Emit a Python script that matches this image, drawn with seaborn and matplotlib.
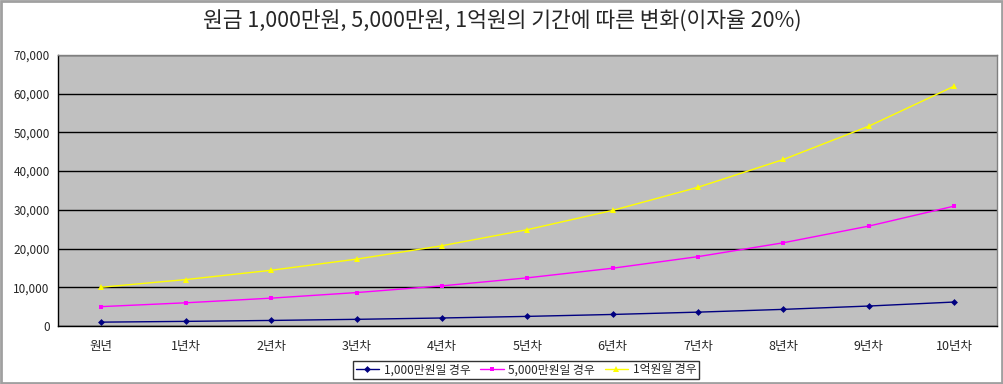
import matplotlib
matplotlib.use("Agg")
import matplotlib.pyplot as plt
import seaborn as sns
import pandas as pd
import numpy as np
from matplotlib.ticker import FuncFormatter, FixedLocator
from matplotlib.patches import Rectangle

categories = ["원년", "1년차", "2년차", "3년차", "4년차", "5년차", "6년차", "7년차", "8년차", "9년차", "10년차"]
s1000 = [1000, 1200, 1440, 1728, 2074, 2488, 2986, 3583, 4300, 5160, 6192]
s5000 = [5000, 6000, 7200, 8640, 10368, 12442, 14930, 17916, 21499, 25799, 30959]
s1eok = [10000, 12000, 14400, 17280, 20736, 24883, 29860, 35832, 42998, 51598, 61917]
series_names = ["1,000만원일 경우", "5,000만원일 경우", "1억원일 경우"]

sns.set_style("white")
plt.rcParams['font.family'] = ['Noto Sans CJK KR', 'DejaVu Sans']

rows = []
for name, vals in zip(series_names, [s1000, s5000, s1eok]):
    for i, (c, v) in enumerate(zip(categories, vals)):
        rows.append({"pos": i, "cat": c, "value": v, "series": name})
df = pd.DataFrame(rows)

fig = plt.figure(figsize=(10.04, 3.84), dpi=100)
ax = fig.add_axes([0.0578, 0.151, 0.935, 0.706])
ax.set_facecolor("#C0C0C0")

palette = {series_names[0]: "#000080", series_names[1]: "#FF00FF", series_names[2]: "#FFFF00"}
markers = {series_names[0]: "D", series_names[1]: "s", series_names[2]: "^"}
sizes = {series_names[0]: 3.5, series_names[1]: 3.5, series_names[2]: 4.5}

for name in series_names:
    sub = df[df["series"] == name]
    sns.lineplot(data=sub, x="pos", y="value", ax=ax, color=palette[name],
                 marker=markers[name], markersize=sizes[name], markeredgewidth=0,
                 linewidth=1.0, label=name, legend=False)

ax.set_xlim(-0.5, len(categories) - 0.5)
ax.set_ylim(0, 70000)
ax.set_yticks(np.arange(0, 70001, 10000))
ax.yaxis.set_major_formatter(FuncFormatter(lambda v, p: f"{int(v):,}"))
ax.set_xticks(range(len(categories)))
ax.set_xticklabels(categories)
ax.xaxis.set_minor_locator(FixedLocator(np.arange(-0.5, len(categories), 1.0)))
ax.tick_params(axis="x", which="major", length=0, pad=10, labelsize=9)
ax.tick_params(axis="x", which="minor", length=4, direction="in", width=0.8, color="black")
ax.tick_params(axis="y", length=0, pad=6, labelsize=8.5)
ax.grid(axis="y", color="black", linewidth=1.0)
ax.set_axisbelow(True)
ax.set_xlabel("")
ax.set_ylabel("")
for side in ["left", "bottom"]:
    ax.spines[side].set_color("black")
    ax.spines[side].set_linewidth(1.0)
for side in ["top", "right"]:
    ax.spines[side].set_color("#808080")
    ax.spines[side].set_linewidth(1.0)

fig.suptitle("원금 1,000만원, 5,000만원, 1억원의 기간에 따른 변화(이자율 20%)",
             y=0.975, fontsize=15.5, x=0.5)

handles, labels = ax.get_legend_handles_labels()
leg = fig.legend(handles, labels, loc="center", bbox_to_anchor=(0.524, 0.037), ncol=3,
                 frameon=True, fancybox=False, fontsize=8.5, handlelength=2.0,
                 columnspacing=0.8, handletextpad=0.4, borderpad=0.2)
leg.get_frame().set_edgecolor("black")
leg.get_frame().set_linewidth(1.0)

fig.patches.append(Rectangle((0.001, 0.002), 0.997, 0.996, transform=fig.transFigure,
                             fill=False, edgecolor="#A0A0A0", linewidth=2))

fig.savefig("out.png", dpi=100)
